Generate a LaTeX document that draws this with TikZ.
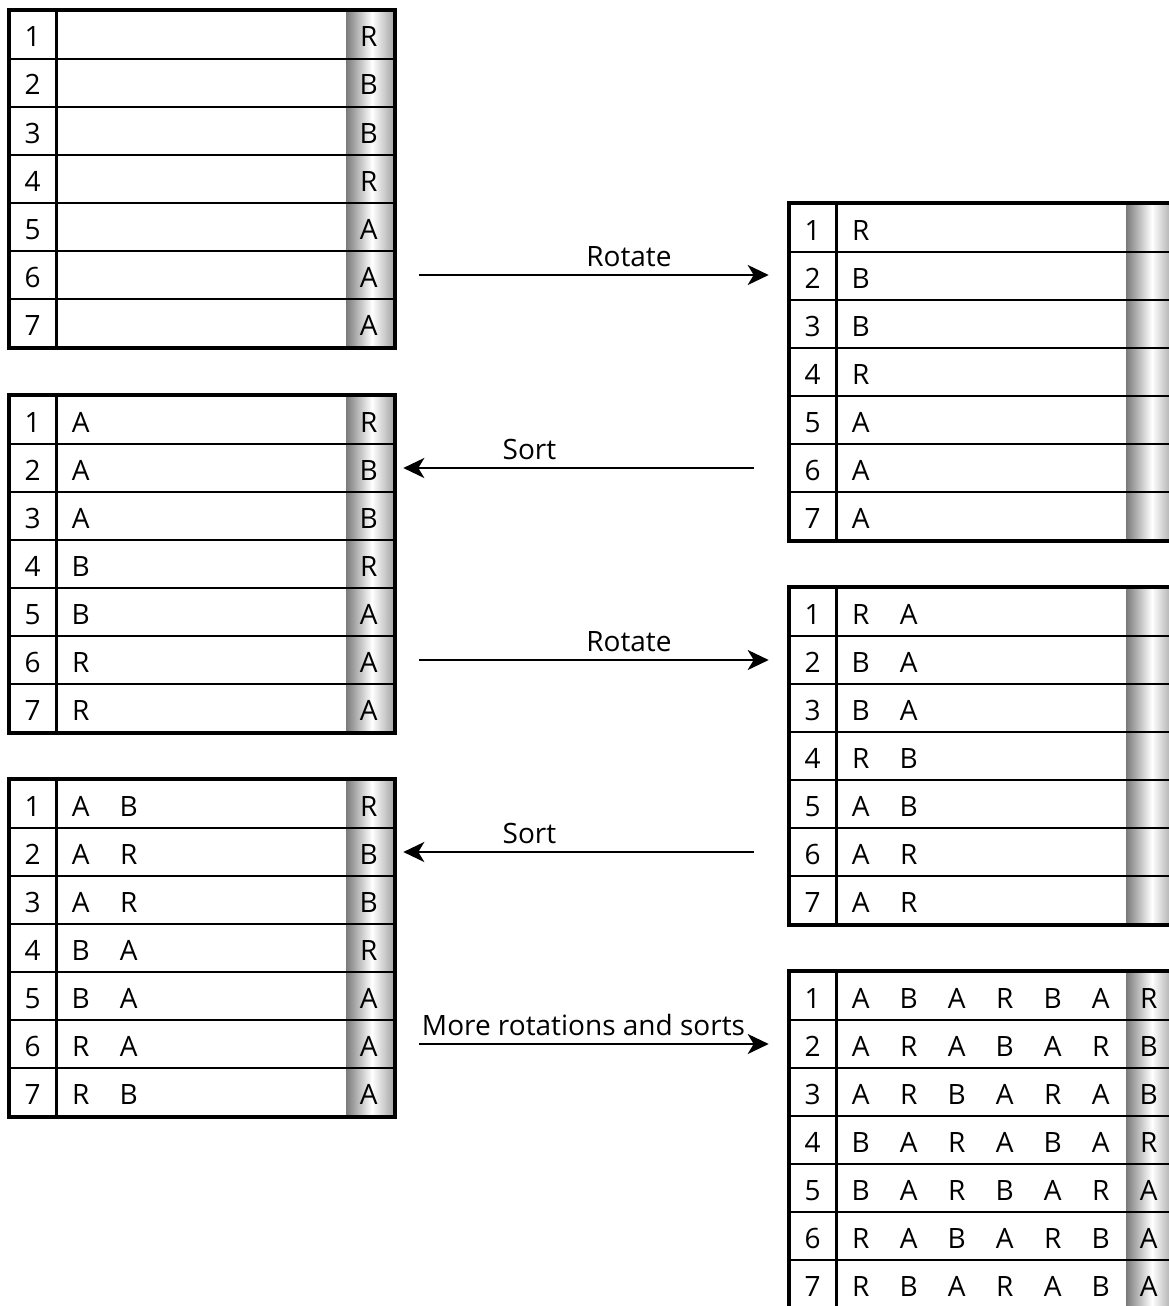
\documentclass[tikz,border=0pt]{standalone}
\usepackage{fontspec}
\setmainfont{Open Sans}
\usetikzlibrary{arrows.meta}

% gray bar of the last column, darker at the edges
\pgfdeclarehorizontalshading{lastcol}{100bp}{color(0bp)=(black!52); color(25bp)=(black!52); color(52bp)=(white); color(75bp)=(black!36); color(100bp)=(black!36)}

% table of seven rows: name, left x, top y
\newcommand{\seqtable}[3]{%
  \shade[shading=lastcol] (#2+336,#3) rectangle (#2+384,#3+336);
  \foreach \r in {1,...,7}
    \node[rowbox] (#1-\r) at (#2+192,#3+\r*48-24) {};
  \foreach \r in {1,...,7}
    \node[cell] (#1-\r-1) at ([xshift=24pt,yshift=-12pt]#1-\r.west) {\r};
  \draw[sep] ([xshift=48pt]#1-1.north west) -- ([xshift=48pt]#1-7.south west);
  \draw[frame] (#1-1.north west) rectangle (#1-7.south east);
}
% letters of one column: table, column, letters
\newcommand{\seqcol}[3]{%
  \foreach \c [count=\r] in {#3}
    \node[cell] (#1-\r-#2) at ([xshift=#2*48pt-24pt,yshift=-12pt]#1-\r.west) {\c};
}

\begin{document}
\begin{tikzpicture}[x=1pt, y=-1pt,
  rowbox/.style={draw, line width=2.6pt, minimum width=384pt, minimum height=48pt, inner sep=0pt},
  sep/.style={line width=2.6pt},
  frame/.style={line width=3.2pt},
  cell/.style={anchor=base, inner sep=0pt, font=\fontsize{28}{33}\selectfont},
  arr/.style={line width=2.6pt, -{Stealth[length=21pt, width=20pt, inset=6pt]}},
  lbl/.style={anchor=base, yshift=9pt, inner sep=0pt, font=\fontsize{28}{33}\selectfont}
]
  \clip (0,0) rectangle (1169,1306);

  % left column
  \seqtable{L1}{10}{11}
  \seqcol{L1}{8}{R,B,B,R,A,A,A}

  \seqtable{L2}{10}{396}
  \seqcol{L2}{2}{A,A,A,B,B,R,R}
  \seqcol{L2}{8}{R,B,B,R,A,A,A}

  \seqtable{L3}{10}{780}
  \seqcol{L3}{2}{A,A,A,B,B,R,R}
  \seqcol{L3}{3}{B,R,R,A,A,A,B}
  \seqcol{L3}{8}{R,B,B,R,A,A,A}

  % right column
  \seqtable{R1}{790}{204}
  \seqcol{R1}{2}{R,B,B,R,A,A,A}

  \seqtable{R2}{790}{588}
  \seqcol{R2}{2}{R,B,B,R,A,A,A}
  \seqcol{R2}{3}{A,A,A,B,B,R,R}

  \seqtable{R3}{790}{972}
  \seqcol{R3}{2}{A,A,A,B,B,R,R}
  \seqcol{R3}{3}{B,R,R,A,A,A,B}
  \seqcol{R3}{4}{A,A,B,R,R,B,A}
  \seqcol{R3}{5}{R,B,A,A,B,A,R}
  \seqcol{R3}{6}{B,A,R,B,A,R,A}
  \seqcol{R3}{7}{A,R,A,A,R,B,B}
  \seqcol{R3}{8}{R,B,B,R,A,A,A}

  % steps
  \draw[arr] ([xshift=24pt]L1-6.east) -- ([xshift=-20pt]L1-6.east -| R1-2.west)
    node[lbl, pos=0.6] (rot1) {Rotate};
  \draw[arr] ([xshift=-35pt]R1-6.west) -- ([xshift=8pt]L2-2.east)
    node[lbl, pos=0.64] (sort1) {Sort};
  \draw[arr] ([xshift=24pt]L2-6.east) -- ([xshift=-20pt]R2-2.west)
    node[lbl, pos=0.6] (rot2) {Rotate};
  \draw[arr] ([xshift=-35pt]R2-6.west) -- ([xshift=8pt]L3-2.east)
    node[lbl, pos=0.64] (sort2) {Sort};
  \draw[arr] ([xshift=24pt]L3-6.east) -- ([xshift=-20pt]R3-2.west)
    node[lbl, pos=0.47] (more) {More rotations and sorts};
\end{tikzpicture}
\end{document}
